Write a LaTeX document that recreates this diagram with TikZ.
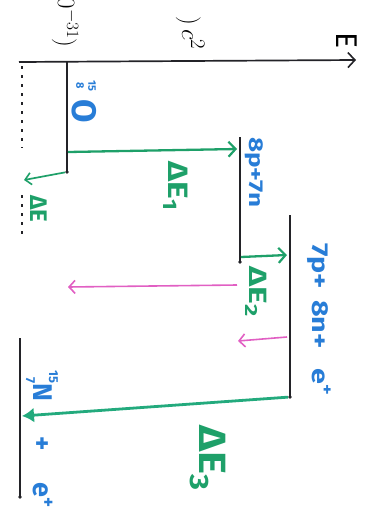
\documentclass[tikz,border=0pt]{standalone}
\usepackage{fontspec}
\setmainfont{Fira Sans}
\usetikzlibrary{arrows.meta}
\definecolor{hgreen}{RGB}{30,160,105}
\definecolor{hteal}{RGB}{35,170,125}
\definecolor{hblue}{RGB}{40,125,215}
\definecolor{hmag}{RGB}{225,95,195}
\definecolor{hblack}{RGB}{35,35,40}
\newcommand{\iso}[3]{\makebox[1.0em][r]{\raisebox{0.6em}{\fontsize{13}{13}\selectfont#1}}\kern-1.0em\makebox[1.0em][r]{\raisebox{-0.25em}{\fontsize{13}{13}\selectfont#2}}#3}
\begin{document}
\begin{tikzpicture}[x=1pt,y=-1pt,
  level/.style={hblack, line width=1.4pt},
  garrow/.style={hgreen, line width=2.3pt, -{Straight Barb[length=7pt,width=15pt,line width=2.2pt]}},
  marrow/.style={hmag, line width=1.6pt, -{Straight Barb[length=6pt,width=13pt,line width=1.6pt]}},
  rlabel/.style={rotate=-90, inner sep=0pt},
  glabel/.style={rlabel, text=hgreen, font=\bfseries\fontsize{28}{28}\selectfont},
  blabel/.style={rlabel, text=hblue, font=\bfseries\fontsize{20}{20}\selectfont},
  dot/.style={circle, fill=hblack, inner sep=0pt, minimum size=3.6pt}]
\useasboundingbox (0,0) rectangle (376,517);

% energy axis
\coordinate (ax0) at (19,62);
\coordinate (ax1) at (356,60);
\draw[hblack, line width=1.7pt, -{Straight Barb[length=7pt,width=15pt,line width=1.6pt]}] (ax0) -- (ax1);
\node[rlabel, font=\fontsize{30}{30}\selectfont] (E) at (347,41) {E};

% partially visible expression above the axis
\node[rlabel, anchor=base east, font=\fontsize{26}{26}\selectfont] (ex1) at (58,48) {$10^{-31}\Bigr)$};
\node[rlabel, anchor=base east, font=\fontsize{30}{30}\selectfont] (ex2) at (182,50) {$)\,c^2$};

% dotted reference line
\coordinate (d0) at (22,66);
\coordinate (d1) at (22,148);
\coordinate (d2) at (22,195);
\coordinate (d3) at (22,234);
\draw[hblack, line width=2.3pt, dash pattern=on 3pt off 6pt] (d0) -- (d1);
\draw[hblack, line width=2.3pt, dash pattern=on 3pt off 6pt] (d2) -- (d3);

% O-15 level
\coordinate (O1) at (67,62);
\coordinate (O2) at (67,172);
\draw[level] (O1) -- (O2);
\node[dot] (Od) at (O2) {};
\node[blabel, font=\bfseries\fontsize{11}{12}\selectfont, align=center] (Onum) at (86,86) {15\\8};
\node[blabel, font=\bfseries\fontsize{34}{34}\selectfont] (Olab) at (84,111) {O};

% 8p+7n level
\coordinate (A1) at (240,137);
\coordinate (A2) at (240,262);
\draw[level] (A1) -- (A2);
\node[dot] (Ad) at (A2) {};
\node[blabel, anchor=north west] (Alab) at (263,137) {\scalebox{1.3}[1]{8p+7n}};

% 7p+8n+e+ level
\coordinate (B1) at (290,215);
\coordinate (B2) at (290,397);
\draw[level] (B1) -- (B2);
\node[dot] (Bd) at (B2) {};
\node[blabel, anchor=north west, font=\bfseries\fontsize{23}{23}\selectfont] (Blab) at (331,243) {\scalebox{1.25}[1]{7p+\hspace{0.4em}8n+\hspace{0.7em}e\textsuperscript{+}}};

% N-15 level
\coordinate (N1) at (20,338);
\coordinate (N2) at (20,497);
\draw[level] (N1) -- (N2);
\node[dot] (Nd) at (N2) {};
\node[blabel, anchor=base west, font=\bfseries\fontsize{27}{27}\selectfont] (Nlab) at (33,356) {\iso{15}{7}N\hspace{1.3em}+\hspace{1.2em}e\textsuperscript{+}};

% green transitions
\coordinate (e1s) at (68,152);
\coordinate (e1e) at (237,149);
\draw[garrow] (e1s) -- (e1e);
\node[glabel] (e1lab) at (176,186) {\scalebox{1.2}[1]{ΔE\textsubscript{1}}};

\coordinate (ees) at (24,180);
\draw[hgreen, line width=1.7pt, -{Straight Barb[length=6pt,width=12pt,line width=1.6pt]}] (Od) -- (ees);
\node[glabel, font=\bfseries\fontsize{24}{24}\selectfont] (eelab) at (39,209) {ΔE};

\coordinate (e2s) at (241,257);
\coordinate (e2e) at (287,255);
\draw[garrow] (e2s) -- (e2e);
\node[glabel, font=\bfseries\fontsize{25}{25}\selectfont] (e2lab) at (256,292) {\scalebox{1.35}[1]{ΔE\textsubscript{2}}};

\coordinate (e3e) at (22,416);
\draw[hteal, line width=2.8pt, -{Latex[length=12pt,width=15pt]}] (Bd) -- (e3e);
\node[glabel, font=\bfseries\fontsize{38}{38}\selectfont] (e3lab) at (208,458) {\scalebox{1.15}[1]{ΔE\textsubscript{3}}};

% magenta arrows
\coordinate (m1s) at (237,285);
\coordinate (m1e) at (68,287);
\draw[marrow] (m1s) -- (m1e);
\coordinate (m2s) at (287,337);
\coordinate (m2e) at (238,341);
\draw[marrow] (m2s) -- (m2e);
\end{tikzpicture}
\end{document}
